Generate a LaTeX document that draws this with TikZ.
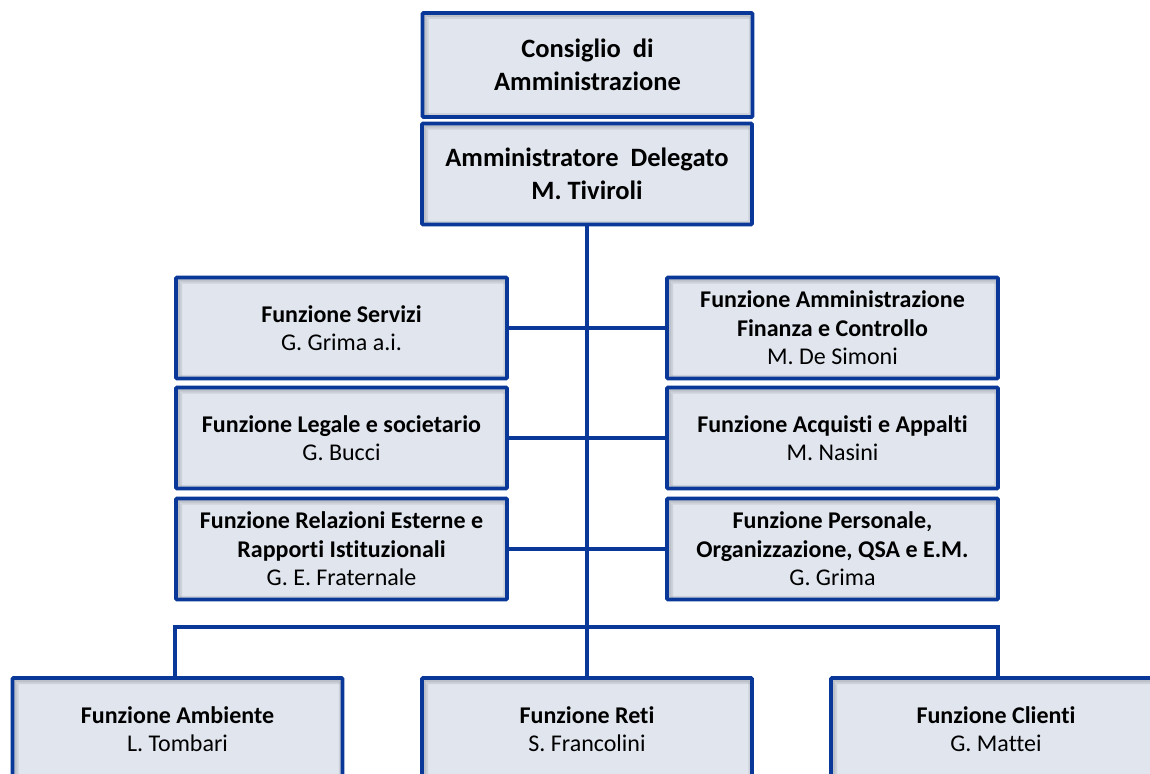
\documentclass[tikz,border=0pt]{standalone}
\usepackage{fontspec}
\setmainfont{Carlito}[Ligatures=NoCommon]
\definecolor{bordo}{RGB}{10,56,152}
\definecolor{riemp}{RGB}{224,229,238}
\definecolor{ombra}{RGB}{160,163,172}
\tikzset{
  box/.style={draw=bordo, line width=3.7pt, fill=riemp, minimum width=330pt, minimum height=101pt,
    align=center, inner sep=0pt, font=\fontsize{24}{28.5}\selectfont, text=black, rounded corners=1pt,
    path picture={
      \draw[ombra, opacity=0.55, line width=3pt]
        ([xshift=2.5pt,yshift=2pt]path picture bounding box.south west) --
        ([xshift=2.5pt,yshift=-2.5pt]path picture bounding box.north west) --
        ([xshift=-2pt,yshift=-2.5pt]path picture bounding box.north east);
      \draw[ombra, opacity=0.3, line width=2pt]
        ([xshift=5pt,yshift=2pt]path picture bounding box.south west) --
        ([xshift=5pt,yshift=-5pt]path picture bounding box.north west) --
        ([xshift=-2pt,yshift=-5pt]path picture bounding box.north east);
      \draw[ombra, opacity=0.3, line width=2.5pt]
        ([xshift=-2.5pt,yshift=-4pt]path picture bounding box.north east) --
        ([xshift=-2.5pt,yshift=2.5pt]path picture bounding box.south east) --
        ([xshift=4pt,yshift=2.5pt]path picture bounding box.south west);
    }},
  bigbox/.style={box, font=\fontsize{26.5}{33}\selectfont},
  conn/.style={draw=bordo, line width=3.7pt},
}
\begin{document}
\begin{tikzpicture}[x=1pt,y=-1pt]
\clip (0,0) rectangle (1150,773);
\fill[white] (0,0) rectangle (1150,773);
% top
\node[bigbox, minimum height=104pt] (cda) at (587.5,65) {\textbf{Consiglio\ \ di}\\\textbf{Amministrazione}};
\node[bigbox] (ad) at (587,174) {\textbf{Amministratore\ \ Delegato}\\\textbf{M. Tiviroli}};
% left column
\node[box, minimum width=331pt] (serv) at (341.5,328) {\textbf{Funzione Servizi}\\G. Grima a.i.};
\node[box, minimum width=331pt] (leg) at (341.5,438) {\textbf{Funzione Legale e societario}\\G. Bucci};
\node[box, minimum width=331pt] (rel) at (341.5,549) {\textbf{Funzione Relazioni Esterne e}\\\textbf{Rapporti Istituzionali}\\G. E. Fraternale};
% right column
\node[box, minimum width=331pt] (afc) at (832.5,328) {\textbf{Funzione Amministrazione}\\\textbf{Finanza e Controllo}\\M. De Simoni};
\node[box, minimum width=331pt] (acq) at (832.5,438) {\textbf{Funzione Acquisti e Appalti}\\M. Nasini};
\node[box, minimum width=331pt] (pers) at (832.5,549) {\textbf{Funzione Personale,}\\\textbf{Organizzazione, QSA e E.M.}\\G. Grima};
% bottom row
\node[box, minimum height=102pt] (amb) at (177.5,729) {\textbf{Funzione Ambiente}\\L. Tombari};
\node[box, minimum height=102pt] (reti) at (587,729) {\textbf{Funzione Reti}\\S. Francolini};
\node[box, minimum height=102pt] (cli) at (996,729) {\textbf{Funzione Clienti}\\G. Mattei};
\coordinate (lbus) at (175,627);
\coordinate (rbus) at (998,627);
% connectors
\draw[conn] (serv.east) -- (afc.west);
\draw[conn] (leg.east) -- (acq.west);
\draw[conn] (rel.east) -- (pers.west);
\draw[conn] (ad.south) -- (reti.north);
\draw[conn, line join=miter] (lbus |- amb.north) -- (lbus) -- (rbus) -- (rbus |- cli.north);
\end{tikzpicture}
\end{document}
